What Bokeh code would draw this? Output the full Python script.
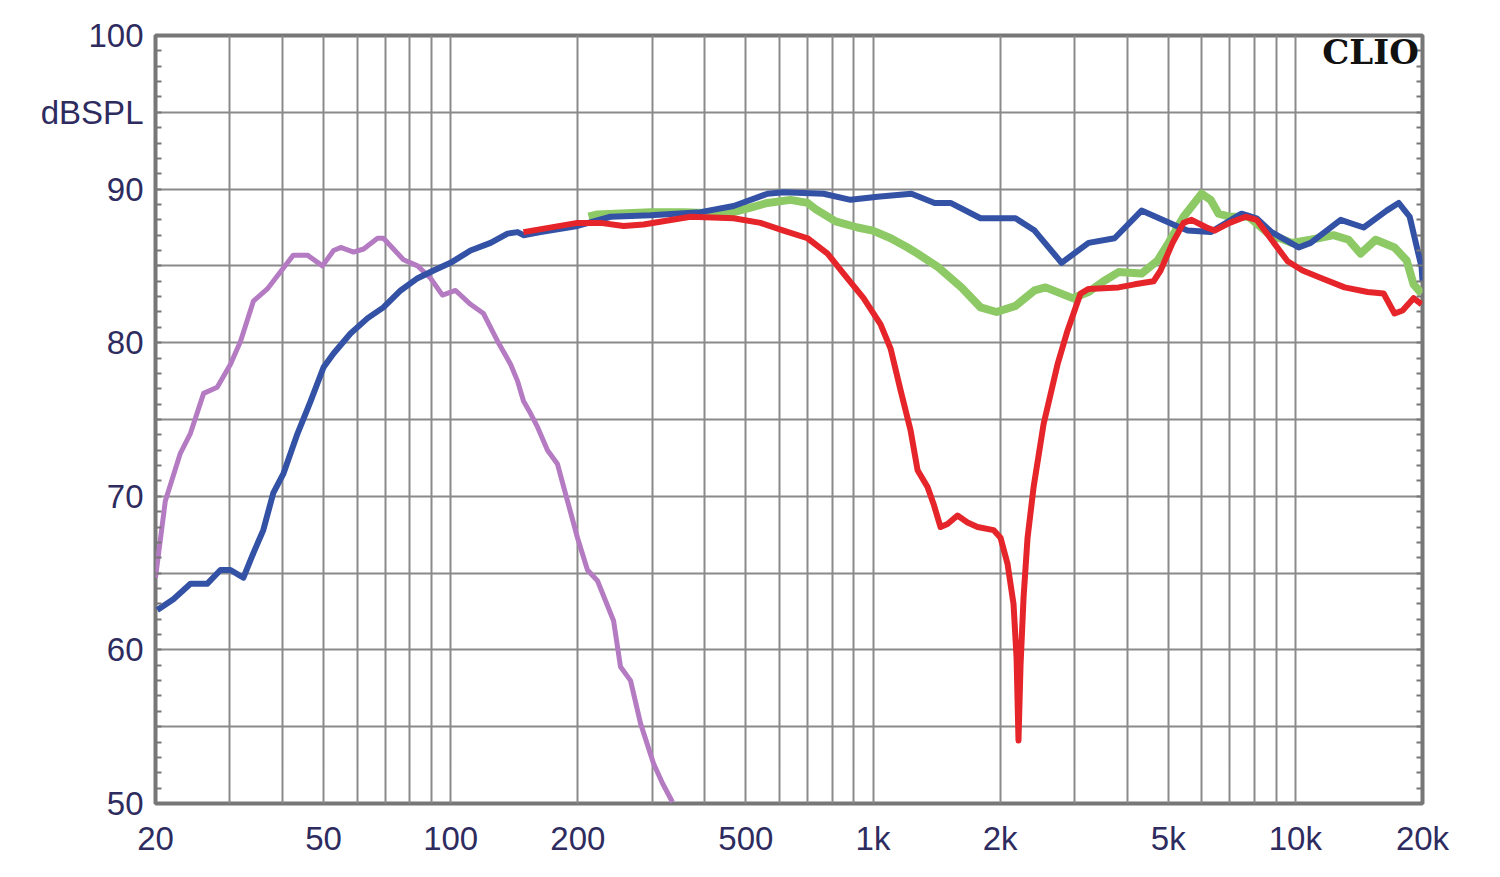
from bokeh.plotting import figure
from bokeh.models import FixedTicker, LinearAxis, Label, Range1d
from bokeh.embed import file_html
from bokeh.resources import INLINE

# ---- data (frequency in Hz, level in dB SPL) ----
purple_f = [20, 21.1, 22.9, 24.2, 26.0, 28.0, 30.1, 31.8, 34.1, 36.8, 39.5, 42.4, 45.8, 49.7,
            52.8, 54.9, 58.9, 62.2, 67.1, 69.3, 73.2, 77.3, 83.5, 89.6, 95.6, 102.7, 111.4,
            119.6, 129.1, 138.6, 144, 148.7, 154.5, 160.6, 169.5, 179, 199.6, 210.8, 222.6,
            243, 252.4, 266.6, 281.6, 302.2, 317.5, 335]
purple_db = [64.7, 69.7, 72.8, 74.1, 76.7, 77.1, 78.6, 80.1, 82.7, 83.5, 84.6, 85.7, 85.7, 85.0,
             86.0, 86.2, 85.9, 86.1, 86.8, 86.8, 86.1, 85.4, 85.0, 84.2, 83.1, 83.4, 82.5,
             81.9, 80.1, 78.6, 77.5, 76.2, 75.4, 74.5, 73.0, 72.1, 67.3, 65.2, 64.5,
             61.9, 58.9, 58.0, 55.2, 52.6, 51.3, 50.1]

blue_f = [20.2, 22.05, 24.2, 26.5, 28.5, 30.1, 32.3, 34.1, 36.0, 38.0, 40.2, 43.4, 46.6, 50.0,
          52.8, 57.9, 63.6, 69.3, 76.1, 83.5, 91.1, 99.9, 111.4, 124.3, 136.3, 144.0, 148.7,
          163.2, 199.6, 239.1, 297.3, 390.5, 467.6, 562.6, 614.0, 763.7, 884.6, 1025, 1233,
          1399, 1526, 1797, 2175, 2413, 2795, 3238, 3732, 4323, 5234, 5558, 6300, 7458, 8093,
          8784, 10180, 10870, 12800, 14510, 16450, 17560, 18650, 19900, 20000]
blue_db = [62.6, 63.3, 64.3, 64.3, 65.2, 65.2, 64.7, 66.3, 67.8, 70.2, 71.5, 74.1, 76.2, 78.4,
           79.3, 80.6, 81.6, 82.3, 83.4, 84.2, 84.7, 85.2, 86.0, 86.5, 87.1, 87.2, 87.0,
           87.2, 87.6, 88.2, 88.3, 88.5, 88.9, 89.7, 89.8, 89.7, 89.3, 89.5, 89.7,
           89.1, 89.1, 88.1, 88.1, 87.3, 85.2, 86.5, 86.8, 88.6, 87.6, 87.3, 87.2, 88.4, 88.1,
           87.2, 86.2, 86.5, 88.0, 87.5, 88.6, 89.1, 88.2, 84.9, 84.0]

green_f = [212, 222.6, 297.3, 356.0, 452.4, 512.8, 562.6, 637.8, 699.8, 730.9, 815.2, 919.0,
           998.5, 1101, 1207, 1275, 1429, 1620, 1797, 1961, 2175, 2413, 2562, 2968, 3238, 3514,
           3815, 4323, 4718, 5010, 5436, 5998, 6300, 6580, 6986, 7748, 8642, 9796, 10870,
           12310, 13370, 14270, 15490, 17170, 18350, 19050, 19900]
green_db = [88.2, 88.35, 88.5, 88.5, 88.4, 88.8, 89.1, 89.3, 89.1, 88.7, 87.9, 87.5,
            87.3, 86.8, 86.2, 85.8, 84.9, 83.6, 82.3, 82.0, 82.4, 83.4, 83.6, 82.9, 83.3, 84.0,
            84.6, 84.5, 85.35, 86.5, 88.2, 89.7, 89.3, 88.4, 88.2, 88.2, 87.1, 86.5, 86.7,
            87.0, 86.7, 85.8, 86.7, 86.2, 85.35, 83.8, 83.2]

red_f = [148.7, 199.6, 226.4, 256.6, 286.2, 369.8, 467.6, 541.6, 614.0, 699.8, 780.5, 851.7,
         949.7, 1042, 1101, 1162, 1227, 1275, 1346, 1391, 1445, 1501, 1585, 1674, 1768, 1929,
         2004, 2082, 2151, 2187, 2210, 2235, 2272, 2322, 2400, 2534, 2735, 2888, 3100, 3238,
         3815, 4164, 4616, 4796, 5120, 5436, 5678, 6164, 6440, 6986, 7622, 8093, 8784, 9586,
         10400, 11540, 13080, 14830, 16180, 17170, 17940, 19050, 19900]
red_db = [87.2, 87.8, 87.8, 87.6, 87.7, 88.2, 88.1, 87.8, 87.3, 86.8, 85.8, 84.5,
          82.9, 81.2, 79.6, 76.9, 74.3, 71.7, 70.6, 69.5, 68.0, 68.2, 68.75, 68.3, 68.0, 67.8,
          67.3, 65.6, 63.0, 59.5, 54.1, 59.0, 63.4, 67.3, 70.6, 74.7, 78.6, 80.8, 83.2, 83.5,
          83.6, 83.8, 84.0, 84.7, 86.5, 87.8, 88.0, 87.5, 87.3, 87.8, 88.2, 88.0, 86.7, 85.3,
          84.7, 84.2, 83.6, 83.3, 83.2, 81.9, 82.1, 82.9, 82.5]

x_tick_values = [20, 50, 100, 200, 500, 1000, 2000, 5000, 10000, 20000]
x_tick_labels = ["20", "50", "100", "200", "500", "1k", "2k", "5k", "10k", "20k"]
y_tick_values = [50, 60, 70, 80, 90, 95, 100]
y_tick_labels = ["50", "60", "70", "80", "90", "dBSPL", "100"]

TEXT = "#2E2B5F"
GRID = "#8a8a8a"

p = figure(width=1492, height=868, x_axis_type="log",
           x_range=Range1d(20, 20000), y_range=Range1d(50, 100),
           output_backend="svg", toolbar_location=None,
           min_border_left=155, min_border_right=70, min_border_top=35, min_border_bottom=65)
p.background_fill_color = "white"
p.border_fill_color = "white"
p.outline_line_color = "#777777"
p.outline_line_width = 4

# x axis
xa = p.xaxis[0]
xa.ticker = FixedTicker(ticks=x_tick_values, minor_ticks=[])
xa.major_label_overrides = {v: s for v, s in zip(x_tick_values, x_tick_labels)}
xa.major_tick_in = 0
xa.major_tick_out = 0
xa.minor_tick_in = 0
xa.minor_tick_out = 0
xa.axis_line_color = None
xa.major_label_standoff = 16
xa.major_label_text_font = "Liberation Sans"
xa.major_label_text_font_size = "33px"
xa.major_label_text_color = TEXT

# y axis
ya = p.yaxis[0]
ya.ticker = FixedTicker(ticks=y_tick_values, minor_ticks=list(range(50, 101)))
ya.major_label_overrides = {v: s for v, s in zip(y_tick_values, y_tick_labels)}
ya.major_tick_in = 0
ya.major_tick_out = 0
ya.minor_tick_in = 6
ya.minor_tick_out = 0
ya.minor_tick_line_color = "#777777"
ya.minor_tick_line_width = 2
ya.axis_line_color = None
ya.major_label_standoff = 12
ya.major_label_text_font = "Liberation Sans"
ya.major_label_text_font_size = "33px"
ya.major_label_text_color = TEXT

ra = LinearAxis(ticker=FixedTicker(ticks=[], minor_ticks=list(range(50, 101))),
                major_label_text_font_size="0px", major_tick_in=0, major_tick_out=0,
                minor_tick_in=6, minor_tick_out=0, minor_tick_line_color="#777777",
                minor_tick_line_width=2, axis_line_color=None)
p.add_layout(ra, "right")

# grids
grid_x = [m * 10 ** d for d in range(1, 5) for m in range(1, 10) if 20 <= m * 10 ** d <= 20000]
p.xgrid.ticker = FixedTicker(ticks=grid_x)
p.ygrid.ticker = FixedTicker(ticks=list(range(55, 100, 5)))
for g in (p.xgrid, p.ygrid):
    g.grid_line_color = GRID
    g.grid_line_width = 2
    g.grid_line_alpha = 1.0

# curves
p.line(purple_f, purple_db, line_color="#B57BC2", line_width=5, line_join="round")
p.line(green_f, green_db, line_color="#8DC965", line_width=8, line_join="round")
p.line(blue_f, blue_db, line_color="#3452A5", line_width=6, line_join="round")
p.line(red_f, red_db, line_color="#E5252A", line_width=6, line_join="round")

p.add_layout(Label(x=19600, y=98.9, text="CLIO", text_align="right", text_baseline="middle",
                   text_font="DejaVu Serif", text_font_style="bold", text_font_size="34px",
                   text_color="#111111"))

open("out.html", "w").write(file_html(p, INLINE))
